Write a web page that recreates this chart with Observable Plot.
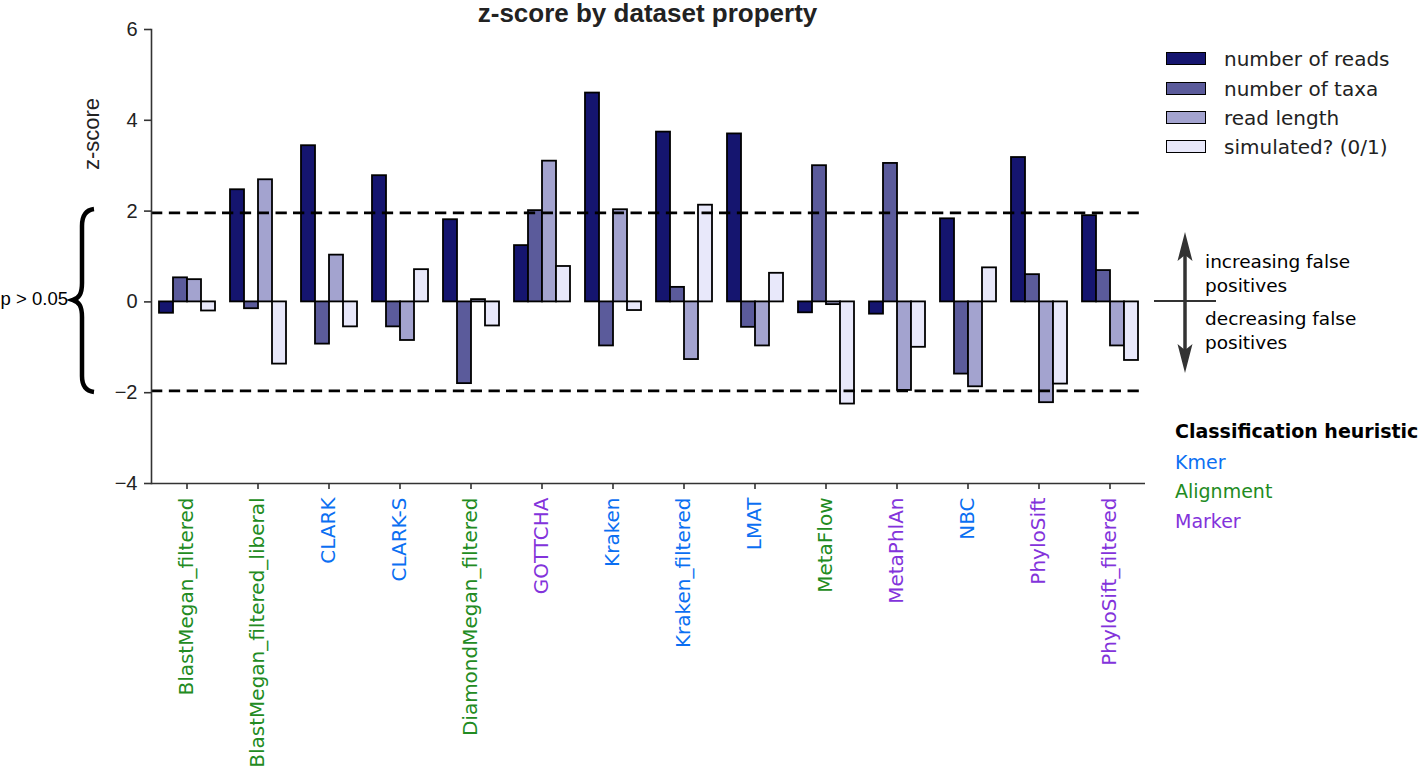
<!DOCTYPE html>
<html><head><meta charset="utf-8">
<script src="https://cdn.jsdelivr.net/npm/d3@7"></script>
<script src="https://cdn.jsdelivr.net/npm/@observablehq/plot@0.6"></script>
<style>
html,body{margin:0;padding:0;background:#fff;width:1418px;height:770px;overflow:hidden}
#wrap{position:relative;width:1418px;height:770px}
#wrap > svg{position:absolute;left:0;top:0}
.t{position:absolute;white-space:nowrap;font-family:"DejaVu Sans",sans-serif;color:#111}
</style></head><body><div id="wrap"></div>
<script>
// ---- data ----
const methods = ["BlastMegan_filtered","BlastMegan_filtered_liberal","CLARK","CLARK-S","DiamondMegan_filtered","GOTTCHA","Kraken","Kraken_filtered","LMAT","MetaFlow","MetaPhlAn","NBC","PhyloSift","PhyloSift_filtered"];
const heuristicOf = ["Alignment","Alignment","Kmer","Kmer","Alignment","Marker","Kmer","Kmer","Kmer","Alignment","Marker","Kmer","Marker","Marker"];
const series = ["number of reads","number of taxa","read length","simulated? (0/1)"];
const numberOfReads = [-0.25, 2.47, 3.44, 2.78, 1.81, 1.24, 4.60, 3.74, 3.70, -0.24, -0.27, 1.83, 3.18, 1.90];
const numberOfTaxa  = [0.53, -0.15, -0.93, -0.55, -1.80, 2.01, -0.97, 0.32, -0.56, 3.00, 3.05, -1.59, 0.60, 0.69];
const readLength    = [0.49, 2.69, 1.03, -0.85, 0.05, 3.10, 2.03, -1.27, -0.97, -0.06, -1.95, -1.87, -2.22, -0.97];
const simulated     = [-0.20, -1.37, -0.55, 0.71, -0.53, 0.78, -0.19, 2.13, 0.63, -2.25, -1.00, 0.75, -1.81, -1.29];
const seriesColors = ["#15156f","#5b5b9b","#a3a3cf","#e8e8fa"];
const heuristics = ["Kmer","Alignment","Marker"];
const heuristicColors = ["#0b6ff2","#228b22","#8333db"];
const yTicks = [-4,-2,0,2,4,6];
const significance = [-1.96, 1.96];
const pLabel = "p > 0.05";

// ---- table ----
const seriesValues = [numberOfReads, numberOfTaxa, readLength, simulated];
const rows = [];
methods.forEach((m, i) => series.forEach((s, j) => rows.push({method: m, series: s, value: seriesValues[j][i], color: seriesColors[j]})));
const methodColor = new Map(methods.map((m, i) => [m, heuristicColors[heuristics.indexOf(heuristicOf[i])]]));

const chart = Plot.plot({
  width: 1418, height: 770,
  marginLeft: 148, marginRight: 271, marginTop: 29, marginBottom: 287,
  style: {fontFamily: "'Liberation Sans', Arial, sans-serif", fontSize: "20px", color: "#222", background: "transparent", overflow: "visible"},
  fx: {domain: methods, padding: 0, label: null},
  x: {domain: series, paddingInner: 0, paddingOuter: 0.5, axis: null},
  y: {domain: [-4, 6], label: null},
  color: {type: "identity"},
  marks: [
    Plot.barY(rows, {fx: "method", x: "series", y: "value", fill: "color", stroke: "#000", strokeWidth: 1.8}),
    Plot.ruleY(significance, {stroke: "#000", strokeWidth: 2.6, strokeDasharray: "11.3,6.54"}),
    Plot.ruleY([-4], {stroke: "#333", strokeWidth: 1.6}),
    Plot.axisY({ticks: yTicks, tickSize: 7, tickPadding: 7, fontSize: 20, fontFamily: "'Liberation Sans', Arial, sans-serif", fill: "#222", stroke: "#333", strokeWidth: 1.6, label: null, ariaLabel: "y-axis"}),
    Plot.axisFx({anchor: "bottom", tickRotate: -90, tickSize: 6, tickPadding: 8, fontSize: 20, fontFamily: "DejaVu Sans", stroke: "#333", strokeWidth: 1.6, fill: d => methodColor.get(d), label: null}),
    Plot.frame({anchor: "left", facetAnchor: "left", stroke: "#333", strokeWidth: 1.6})
  ]
});
const wrap = document.getElementById("wrap");
wrap.appendChild(chart);
// enlarge y tick labels (Liberation Sans, as in the reference)
d3.select(chart).selectAll('g[aria-label^="y-axis tick label"], g[aria-label^="y-axis"]').filter(function() {
  return this.querySelector("text");
}).each(function() {
  this.setAttribute("font-size", "20");
  this.style.fontSize = "20px";
  d3.select(this).selectAll("text").style("font-size", "20px").style("font-family", "'Liberation Sans', Arial, sans-serif");
});

// ---- annotations ----
const ns = "http://www.w3.org/2000/svg";
const ov = document.createElementNS(ns, "svg");
ov.setAttribute("width", 1418); ov.setAttribute("height", 770);
ov.innerHTML = `
<path d="M94 209 C86 210 82 215 82 226 L82 283 C82 294 79 298 73 300 C79 302 82 306 82 317 L82 376 C82 386 86 391 94 392" fill="none" stroke="#000" stroke-width="4.5"/>
<line x1="1154" y1="301" x2="1216" y2="301" stroke="#333" stroke-width="2"/>
<line x1="1185" y1="252" x2="1185" y2="353" stroke="#333" stroke-width="3.5"/>
<path d="M1185 232 L1192.5 261 L1185 255 L1177.5 261 Z" fill="#333"/>
<path d="M1185 373 L1192.5 344 L1185 350 L1177.5 344 Z" fill="#333"/>`;
wrap.appendChild(ov);

function addText(txt, css) {
  const d = document.createElement("div");
  d.className = "t"; d.textContent = txt;
  Object.assign(d.style, css);
  wrap.appendChild(d);
  return d;
}
addText("z-score by dataset property", {left: "647.5px", top: "-1px", transform: "translateX(-50%)", fontFamily: "'Liberation Sans', Arial, sans-serif", fontWeight: "bold", fontSize: "26px", lineHeight: "28px", color: "#222"});
addText("z-score", {left: "92px", top: "134px", transform: "translate(-50%,-50%) rotate(-90deg)", fontFamily: "'Liberation Sans', Arial, sans-serif", fontSize: "22px", color: "#222"});
addText(pLabel, {left: "0px", width: "68px", textAlign: "right", top: "288px", fontFamily: "'Liberation Sans', Arial, sans-serif", fontSize: "18.5px", lineHeight: "22px", color: "#000"});
const a1 = addText("", {left: "1205px", top: "250px", fontSize: "18.5px", lineHeight: "23.5px", color: "#000"});
a1.innerHTML = "increasing false<br>positives";
const a2 = addText("", {left: "1205px", top: "307px", fontSize: "18.5px", lineHeight: "23.5px", color: "#000"});
a2.innerHTML = "decreasing false<br>positives";

// legend
const legendY = [59.3, 88.7, 118.3, 147.3];
series.forEach((s, j) => {
  const sw = document.createElement("div");
  Object.assign(sw.style, {position: "absolute", left: "1166px", top: (legendY[j] - 7) + "px", width: "38px", height: "11px", background: seriesColors[j], border: "1.6px solid #000"});
  wrap.appendChild(sw);
  addText(s, {left: "1224px", top: (legendY[j] - 13) + "px", fontSize: "20px", lineHeight: "26px", color: "#222"});
});
addText("Classification heuristic", {left: "1175px", top: "419px", fontSize: "19px", lineHeight: "24px", fontWeight: "bold", color: "#000"});
const hY = [463.3, 491.7, 521.7];
heuristics.forEach((h, k) => addText(h, {left: "1175px", top: (hY[k] - 13) + "px", fontSize: "19px", lineHeight: "24px", color: heuristicColors[k]}));
</script></body></html>
